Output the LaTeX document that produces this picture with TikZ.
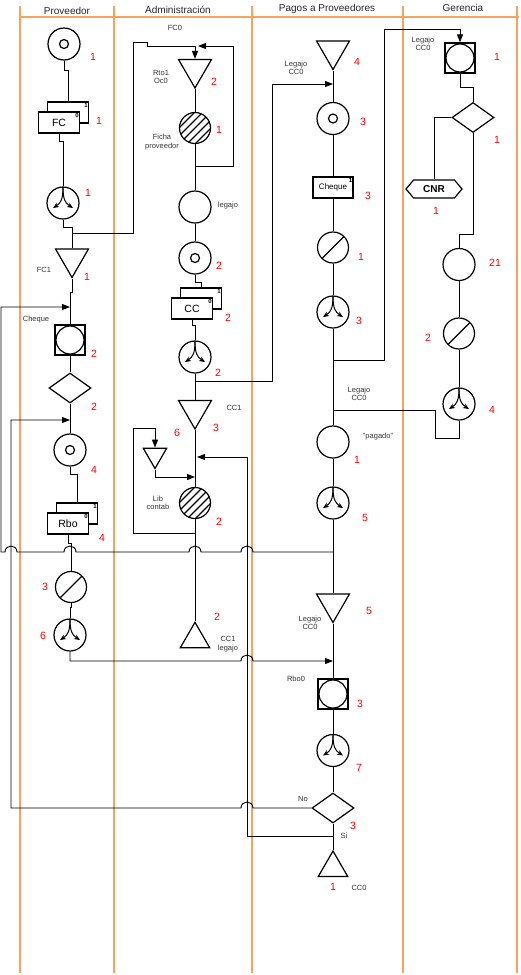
\documentclass[tikz,border=0pt]{standalone}
\usepackage{fontspec}
\setmainfont{Liberation Sans}
\usetikzlibrary{shapes.geometric,shapes.symbols,arrows.meta,positioning,shadows}
\definecolor{laneorange}{RGB}{244,164,96}

\begin{document}
\begin{tikzpicture}[x=1pt, y=-1pt,
    lanebar/.style={draw=laneorange, line width=1.5pt},
    lanehead/.style={font=\fontsize{10}{12}\selectfont, text=black!85, inner sep=0pt},
    conn/.style={line width=0.9pt},
    flow/.style={conn, -{Triangle[length=8pt,width=6pt]}},
    shp/.style={draw, line width=1.2pt, inner sep=0pt, fill=white},
    ring/.style={shp, circle, minimum size=32pt},
    ringdot/.style={ring, path picture={\draw[line width=1.2pt] (path picture bounding box.center) circle[radius=4.5pt];}},
    slash/.style={ring, minimum size=31pt, path picture={\draw[line width=1.2pt] (path picture bounding box.south west) -- (path picture bounding box.north east);}},
    hatch/.style={ring, minimum size=31pt, path picture={
        \foreach \e in {-24,-16,...,24}
            \draw[line width=1.2pt, shift={(path picture bounding box.center)}] (\e-20,20) -- (\e+20,-20);}},
    merge/.style={ring, path picture={
        \draw[line width=1pt, -{Stealth[length=6pt,width=5pt]}, shift={(path picture bounding box.center)}]
            (0,-16) .. controls (0,-4) and (-2,0) .. (-10,5);
        \draw[line width=1pt, -{Stealth[length=6pt,width=5pt]}, shift={(path picture bounding box.center)}]
            (0,-16) .. controls (0,-4) and (2,0) .. (10,5);}},
    sqring/.style={shp, rectangle, minimum size=30pt, path picture={\draw[line width=1.2pt] (path picture bounding box.center) circle[radius=14pt];}},
    arch/.style={shp, regular polygon, regular polygon sides=3, shape border rotate=180, minimum size=38pt},
    endtri/.style={shp, regular polygon, regular polygon sides=3, minimum size=34pt},
    decide/.style={shp, diamond, minimum width=42pt, minimum height=30pt},
    sheet/.style={shp, rectangle, minimum width=41pt, minimum height=21pt, font=\fontsize{10.5}{12}\selectfont},
    doc/.style={sheet, copy shadow={shadow xshift=9pt, shadow yshift=10pt, draw=black, fill=white, line width=1.2pt}},
    hexa/.style={shp, signal, signal to=west and east, signal pointer angle=100, minimum width=56pt, minimum height=18pt, font=\fontsize{10}{12}\selectfont\bfseries},
    idx/.style={font=\fontsize{6}{6}\selectfont\bfseries, inner sep=1.3pt},
    num/.style={text=red, font=\fontsize{10.5}{12}\selectfont, inner sep=0pt},
    note/.style={font=\fontsize{7.5}{8.5}\selectfont, align=center, text=black!80, inner sep=0pt}
]
\useasboundingbox (0,0) rectangle (520,975);

% swimlanes
\draw[lanebar] (19,17) -- (519,17);
\draw[lanebar] (20,6) -- (20,973);
\draw[lanebar] (114,6) -- (114,973);
\draw[lanebar] (252,6) -- (252,973);
\draw[lanebar] (403,6) -- (403,973);
\draw[lanebar] (517,6) -- (517,973);
\node[lanehead] (hProv) at (67,11) {Proveedor};
\node[lanehead] (hAdm) at (178,10) {Administración};
\node[lanehead] (hPag) at (327,9) {Pagos a Proveedores};
\node[lanehead] (hGer) at (463,8) {Gerencia};

% Proveedor
\node[ringdot] (provIn) at (64,44) {};
\node[doc] (provFC) at (59,122.5) {FC};
\node[idx, anchor=north east] (provFCa) at (provFC.north east) {0};
\node[idx, anchor=north east] (provFCb) at ([xshift=9pt,yshift=10pt]provFC.north east) {1};
\node[merge] (provSplit) at (63,203) {};
\node[arch] (provFC1) at (72,258.5) {};
\node[sqring] (provCheque) at (70,340) {};
\node[decide] (provCheck) at (70,388) {};
\node[ringdot] (provRecv) at (70,450) {};
\node[doc] (provRbo) at (68,523.5) {Rbo};
\node[idx, anchor=north east] (provRboa) at (provRbo.north east) {0};
\node[idx, anchor=north east] (provRbob) at ([xshift=9pt,yshift=10pt]provRbo.north east) {1};
\node[slash] (provCtrl) at (71,587) {};
\node[merge] (provSplit2) at (70,635) {};

\node[num] (nProvIn) at (93,57) {1};
\node[num] (nProvFC) at (99,121) {1};
\node[num] (nProvSplit) at (88,193) {1};
\node[note] (tProvFC1) at (44,270) {FC1};
\node[num] (nProvFC1) at (87,277) {1};
\node[note] (tProvCheque) at (36,320) {Cheque};
\node[num] (nProvCheque) at (94,354) {2};
\node[num] (nProvCheck) at (94,407) {2};
\node[num] (nProvRecv) at (94,470) {4};
\node[num] (nProvRbo) at (102,538) {4};
\node[num] (nProvCtrl) at (45,587) {3};
\node[num] (nProvSplit2) at (43,636) {6};

% Administracion
\node[note] (tAdmFC0) at (175,28) {FC0};
\node[arch] (admRto) at (195,69) {};
\node[hatch] (admFicha) at (195,128) {};
\node[ring] (admLegajo) at (195,207) {};
\node[ringdot] (admCC0) at (195,258) {};
\node[doc] (admCC) at (192,308.5) {CC};
\node[idx, anchor=north east] (admCCa) at (admCC.north east) {0};
\node[idx, anchor=north east] (admCCb) at ([xshift=9pt,yshift=10pt]admCC.north east) {1};
\node[merge] (admSplit) at (195,357) {};
\node[arch] (admCC1) at (195,410) {};
\node[arch, minimum size=27pt] (admSmall) at (155,455) {};
\node[hatch] (admLib) at (195,503) {};
\node[endtri] (admEnd) at (195,639.3) {};

\node[note] (tAdmRto) at (161,77) {Rto1\\Oc0};
\node[num] (nAdmRto) at (214,82) {2};
\node[note] (tAdmFicha) at (162,142) {Ficha\\proveedor};
\node[num] (nAdmFicha) at (219,130) {1};
\node[note] (tAdmLegajo) at (228,206) {legajo};
\node[num] (nAdmCC0) at (219,266) {2};
\node[num] (nAdmCC) at (228,318) {2};
\node[num] (nAdmSplit) at (218,373) {2};
\node[note] (tAdmCC1) at (234,408) {CC1};
\node[num] (nAdmCC1) at (216,428) {3};
\node[num] (nAdmSmall) at (177,433) {6};
\node[note] (tAdmLib) at (158,503) {Lib\\contab};
\node[num] (nAdmLib) at (219,522) {2};
\node[num] (nAdmEnd) at (217,617) {2};
\node[note] (tAdmEnd) at (228,644) {CC1\\legajo};

% Pagos a Proveedores
\node[arch] (pagLegajo) at (333,50.5) {};
\node[ringdot] (pagRecv) at (333,118.5) {};
\node[sheet, minimum width=40pt, font=\fontsize{8}{9}\selectfont] (pagCheque) at (333,187.5) {Cheque};
\node[idx, anchor=north east] (pagChequea) at (pagCheque.north east) {1};
\node[slash] (pagSign) at (333,247.5) {};
\node[merge] (pagSplit) at (333,312) {};
\node[ring] (pagPagado) at (333,442) {};
\node[merge] (pagSplit2) at (333,503) {};
\node[arch] (pagLegajo2) at (333,603.5) {};
\node[sqring] (pagRbo0) at (333,694) {};
\node[merge] (pagSplit3) at (333,750.5) {};
\node[decide] (pagCheck) at (333,808) {};
\node[endtri] (pagEnd) at (333,868) {};

\node[num] (nPagLegajo) at (357,62) {4};
\node[note] (tPagLegajo) at (296,68) {Legajo\\CC0};
\node[num] (nPagRecv) at (363,122) {3};
\node[num] (nPagCheque) at (368,196) {3};
\node[num] (nPagSign) at (361,257) {1};
\node[num] (nPagSplit) at (359,321) {3};
\node[note] (tPagLegajoB) at (359,394) {Legajo\\CC0};
\node[note] (tPagPagado) at (378,437) {"pagado"};
\node[num] (nPagPagado) at (357,460) {1};
\node[num] (nPagSplit2) at (365,518) {5};
\node[num] (nPagLegajo2) at (369,611) {5};
\node[note] (tPagLegajo2) at (310,623) {Legajo\\CC0};
\node[note] (tPagRbo0) at (296,679) {Rbo0};
\node[num] (nPagRbo0) at (360,704) {3};
\node[num] (nPagSplit3) at (359,768) {7};
\node[note] (tPagNo) at (303,799) {No};
\node[num] (nPagCheck) at (353,826) {3};
\node[note] (tPagSi) at (344,836) {Si};
\node[num] (nPagEnd) at (333,887) {1};
\node[note] (tPagEnd) at (359,888) {CC0};

% Gerencia
\node[sqring] (gerLegajo) at (460,58) {};
\node[decide] (gerCheck) at (473,117.5) {};
\node[hexa] (gerCNR) at (434,189) {CNR};
\node[ring] (gerOp) at (459,264.5) {};
\node[slash] (gerSign) at (459,333.5) {};
\node[merge] (gerSplit) at (459,404) {};

\node[note] (tGerLegajo) at (423,44) {Legajo\\CC0};
\node[num] (nGerLegajo) at (497,57) {1};
\node[num] (nGerCheck) at (497,140) {1};
\node[num] (nGerCNR) at (436,211) {1};
\node[num] (nGerOp) at (495,263) {21};
\node[num] (nGerSign) at (428,338) {2};
\node[num] (nGerSplit) at (492,410) {4};

% free ends on the main lines
\coordinate (aOut) at (72,233);
\coordinate (cIn) at (70,307);
\coordinate (dIn) at (70,420);
\coordinate (bOut) at (195,166);
\coordinate (topIn) at (198,46);
\coordinate (gOut) at (195,381);
\coordinate (hOut) at (195,533);
\coordinate (libIn) at (195,477);
\coordinate (libIn2) at (197,457);
\coordinate (pagIn) at (333,84);
\coordinate (eOut) at (333,360);
\coordinate (kIn) at (333,410);
\coordinate (cOut) at (333,552);
\coordinate (rboIn) at (333,661);
\coordinate (siOut) at (333,836);

% Proveedor flow
\draw[conn] (provIn.south) -- ++(0,10) -| ([xshift=9pt,yshift=10pt]provFC.north);
\draw[conn] (provFC.south) -- ++(0,8) -| (provSplit.north);
\draw[conn] (provSplit.south) -- ++(0,8) -| (provFC1.north);
\draw[flow] (aOut) -- (133,233) -- (133,42) -- (147,42) -- (147,46) -| (admRto.north);
\draw[conn] (provFC1.south) -- ++(0,14) -| (provCheque.north);
\draw[conn] (provCheque.south) -- (provCheck.north);
\draw[conn] (provCheck.south) -- (provRecv.north);
\draw[conn] (provRecv.south) -- ++(0,8) -| ([xshift=9pt,yshift=10pt]provRbo.north);
\draw[conn] (provRbo.south) -- ++(0,9) -| (provCtrl.north);
\draw[conn] (provCtrl.south) -- ++(0,4) -| (provSplit2.north);
\draw[flow] (provSplit2.south) -- (70,661) -- (241,661) .. controls (241,653) and (253,653) .. (253,661) -- (rboIn);

% Administracion flow
\draw[conn] (admRto.south) -- (admFicha.north);
\draw[conn] (admFicha.south) -- (admLegajo.north);
\draw[flow] (bOut) -- (233,166) -- (233,46) -- (topIn);
\draw[conn] (admLegajo.south) -- (admCC0.north);
\draw[conn] (admCC0.south) -- ++(0,8) -| ([xshift=9pt,yshift=10pt]admCC.north);
\draw[conn] (admCC.south) -- ++(0,6) -| (admSplit.north);
\draw[conn] (admSplit.south) -- (admCC1.north);
\draw[flow] (gOut) -- (272,381) -- (272,84) -- (pagIn);
\draw[conn] (admCC1.south) -- (admLib.north);
\draw[flow] (hOut) -- (133,533) -- (133,428) -| (admSmall.north);
\draw[flow] (admSmall.south) |- (libIn);
\draw[flow] (siOut) -- (247,836) -- (247,457) -- (libIn2);
\draw[conn] (admLib.south) -- (admEnd.north);

% Pagos flow
\draw[conn] (pagLegajo.south) -- (pagRecv.north);
\draw[conn] (pagRecv.south) -- (pagCheque.north);
\draw[conn] (pagCheque.south) -- (pagSign.north);
\draw[conn] (pagSign.south) -- (pagSplit.north);
\draw[conn] (pagSplit.south) -- (pagPagado.north);
\draw[flow] (eOut) -- (384,360) -- (384,29) -| (gerLegajo.north);
\draw[conn] (pagPagado.south) -- (pagSplit2.north);
\draw[conn] (pagSplit2.south) -- (pagLegajo2.north);
\draw[flow] (cOut) -- (253,552) .. controls (253,544) and (241,544) .. (241,552)
    -- (201,552) .. controls (201,544) and (189,544) .. (189,552)
    -- (76,552) .. controls (76,544) and (64,544) .. (64,552)
    -- (17,552) .. controls (17,544) and (5,544) .. (5,552)
    -- (1,552) -- (1,307) -- (cIn);
\draw[conn] (pagLegajo2.south) -- (pagRbo0.north);
\draw[conn] (pagRbo0.south) -- (pagSplit3.north);
\draw[conn] (pagSplit3.south) -- (pagCheck.north);
\draw[conn] (pagCheck.south) -- (pagEnd.north);
\draw[flow] (pagCheck.west) -- (253,808) .. controls (253,800) and (241,800) .. (241,808)
    -- (11,808) -- (11,420) -- (dIn);

% Gerencia flow
\draw[conn] (gerLegajo.south) -- ++(0,14) -| (gerCheck.north);
\draw[conn] (gerCheck.west) -| (gerCNR.north);
\draw[conn] (gerCheck.south) -- ++(0,101) -| (gerOp.north);
\draw[conn] (gerOp.south) -- (gerSign.north);
\draw[conn] (gerSign.south) -- (gerSplit.north);
\draw[conn] (gerSplit.south) -- (459,438) -- (435,438) -- (435,410) -- (kIn);
\end{tikzpicture}
\end{document}
